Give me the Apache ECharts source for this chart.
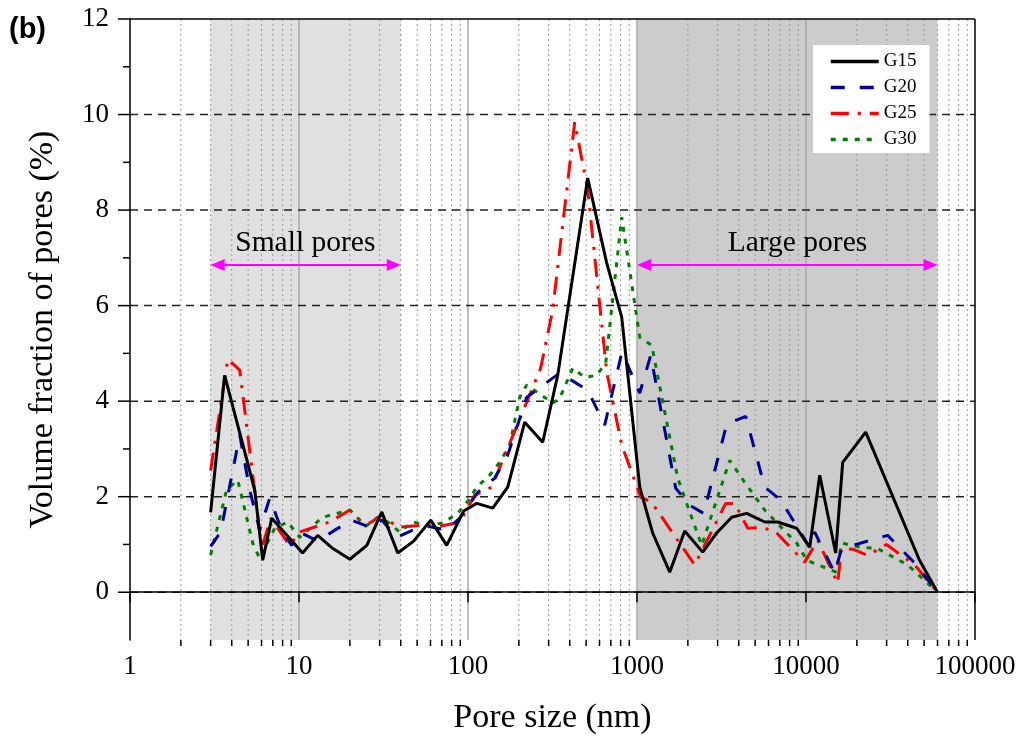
<!DOCTYPE html>
<html><head><meta charset="utf-8">
<script src="https://cdn.jsdelivr.net/npm/echarts@6/dist/echarts.min.js"></script>
<style>html,body{margin:0;padding:0;background:#fff}#chart{width:1023px;height:744px}</style>
</head><body><div id="chart"></div>
<script>
// ---- data (pore size nm, volume fraction %) ----
const seriesNames = ['G15', 'G20', 'G25', 'G30'];
const g15 = [[3,1.67],[3.63,4.54],[5.47,2.14],[6.10,0.67],[6.90,1.55],[10.5,0.82],[12.9,1.19],[15.8,0.92],[20,0.69],[25.2,0.98],[30.9,1.68],[38.4,0.82],[47.7,1.07],[60.2,1.51],[74.8,0.98],[94.3,1.70],[112.6,1.86],[140,1.76],[171.8,2.20],[216.6,3.56],[276.7,3.14],[339.5,4.54],[510.9,8.67],[662,6.89],[812,5.76],[1038,2.20],[1238,1.24],[1562,0.42],[1915,1.28],[2447,0.84],[2962,1.24],[3634,1.57],[4458,1.65],[5696,1.47],[6800,1.47],[8811,1.34],[10517,0.94],[12055,2.45],[14985,0.82],[16490,2.72],[22560,3.35],[46950,0.67],[60000,0]];
const g20 = [[3,0.96],[3.44,1.26],[4.46,3.29],[5.11,2.14],[5.85,1.30],[6.71,1.97],[7.90,1.30],[9.05,0.98],[10.1,1.26],[12.9,1.07],[16.3,1.30],[20.5,1.51],[26.2,1.36],[30.9,1.51],[37.9,1.15],[47.1,1.30],[57.7,1.38],[74.8,1.30],[89.3,1.55],[114.1,2.09],[143.9,2.39],[171.8,2.87],[222.5,4.08],[348.8,4.59],[510.9,4.23],[644,3.50],[815,5.03],[1038,4.17],[1205,4.96],[1694,2.18],[2051,1.82],[2482,1.65],[3395,3.52],[4398,3.68],[5696,2.20],[7085,1.93],[10517,0.94],[11260,1.26],[14785,0.40],[16200,0.90],[18890,0.98],[30440,1.19],[43980,0.61],[60000,0]];
const g25 = [[3,2.55],[3.79,4.88],[4.46,4.65],[6.02,0.92],[6.80,1.55],[8.81,0.98],[10.1,1.26],[15.2,1.47],[20,1.72],[21.9,1.55],[26.2,1.45],[30.9,1.61],[38.4,1.36],[51.8,1.40],[68.0,1.38],[89.3,1.47],[109.5,2.03],[138.1,2.20],[269,4.69],[317,5.91],[428,9.84],[510.9,8.42],[662,4.61],[812,3.08],[1052,1.99],[1222,1.88],[2195,0.57],[3349,1.86],[3786,1.86],[4519,1.34],[5543,1.36],[6708,1.24],[9810,0.63],[11730,1.09],[15400,0.19],[16200,0.92],[18890,0.90],[23180,0.77],[29900,1.00],[43980,0.57],[60000,0]];
const g30 = [[3,0.78],[3.73,2.14],[4.34,2.35],[5.32,1.03],[5.85,0.71],[7.18,1.34],[8.57,1.47],[10.1,1.15],[13.8,1.57],[20,1.72],[24.8,1.38],[29.2,1.57],[33.5,1.47],[39.4,1.26],[47.1,1.47],[57.7,1.40],[70.8,1.45],[86.9,1.65],[101,1.93],[112.6,2.20],[134.4,2.45],[154,2.72],[176.5,3.08],[202.2,4.08],[222.5,4.34],[317.1,3.96],[348.8,4.06],[416.5,4.69],[490,4.50],[577,4.54],[653,4.80],[812,7.85],[1038,5.34],[1222,5.17],[1741,2.39],[2414,0.98],[3536,2.76],[4339,2.30],[5696,1.72],[7688,1.24],[8811,1.03],[10096,0.67],[13260,0.50],[15130,0.42],[16263,1.03],[21150,0.94],[26340,0.92],[39980,0.57],[60000,0]];
const xTickLabels = [1, 10, 100, 1000, 10000, 100000];
const yTickLabels = [0, 2, 4, 6, 8, 10, 12];
const smallPores = [3, 40];
const largePores = [1000, 60000];
const poreLabels = ['Small pores', 'Large pores'];
const poreLabelX = [10.9, 8900];
const arrowLevel = 6.85;
const labelLevel = 7.3;

const X_MIN = xTickLabels[0], X_MAX = xTickLabels[xTickLabels.length - 1];
const Y_MIN = -1, Y_MAX = yTickLabels[yTickLabels.length - 1];
const SERIF = '"Liberation Serif","Times New Roman",serif';

function renderDecor(params, api) {
  const c = [];
  const P = (x, y) => api.coord([x, y]);
  const seg = (a, b, style) => c.push({type: 'line', shape: {x1: a[0], y1: a[1], x2: b[0], y2: b[1]}, style: style});
  const band = (r, fill) => {
    const a = P(r[0], Y_MAX), b = P(r[1], Y_MIN);
    c.push({type: 'rect', shape: {x: a[0], y: a[1], width: b[0] - a[0], height: b[1] - a[1]}, style: {fill: fill}});
  };
  band(smallPores, '#e0e0e0');
  band(largePores, '#cccccc');
  for (let d = 1; d < X_MAX; d *= 10) {
    for (let k = 2; k <= 9; k++) {
      const v = d * k;
      const a = P(v, Y_MAX), b = P(v, Y_MIN);
      seg(a, b, {stroke: '#9a9a9a', lineWidth: 1, lineDash: [2, 3]});
      seg(b, [b[0], b[1] + 6], {stroke: '#000', lineWidth: 1.5});
    }
  }
  xTickLabels.slice(1, -1).forEach(v => seg(P(v, Y_MAX), P(v, Y_MIN), {stroke: '#a8a8a8', lineWidth: 1.5}));
  yTickLabels.forEach(v => { if (v < Y_MAX) seg(P(X_MIN, v), P(X_MAX, v), {stroke: '#222', lineWidth: 1.5, lineDash: [8, 6]}); });
  for (let v = 0; v <= Y_MAX; v++) {
    const a = P(X_MIN, v);
    const len = yTickLabels.indexOf(v) >= 0 ? 12 : 7;
    seg([a[0] - len, a[1]], a, {stroke: '#000', lineWidth: 1.5});
  }
  seg(P(X_MIN, Y_MAX), P(X_MAX, Y_MAX), {stroke: '#000', lineWidth: 1.5});
  seg(P(X_MAX, Y_MAX), P(X_MAX, Y_MIN), {stroke: '#000', lineWidth: 1.5});
  [smallPores, largePores].forEach((r, i) => {
    const a = P(r[0], arrowLevel), b = P(r[1], arrowLevel);
    const h = 14, w = 6;
    seg([a[0] + h - 2, a[1]], [b[0] - h + 2, b[1]], {stroke: '#ff00ff', lineWidth: 2});
    c.push({type: 'polygon', shape: {points: [[a[0], a[1]], [a[0] + h, a[1] - w], [a[0] + h, a[1] + w]]}, style: {fill: '#ff00ff'}});
    c.push({type: 'polygon', shape: {points: [[b[0], b[1]], [b[0] - h, b[1] - w], [b[0] - h, b[1] + w]]}, style: {fill: '#ff00ff'}});
    const t = P(poreLabelX[i], labelLevel);
    c.push({type: 'text', x: t[0], y: t[1], style: {text: poreLabels[i], fill: '#000', fontSize: 29.5, fontFamily: SERIF, align: 'center', verticalAlign: 'middle'}});
  });
  return {type: 'group', children: c};
}

const styles = {
  G15: {color: '#000000', type: 'solid', z: 6},
  G20: {color: '#000099', type: [14, 15], z: 5},
  G25: {color: '#ff0000', type: [18, 9, 3, 9], z: 4},
  G30: {color: '#008000', type: [5, 7], z: 3}
};
const dataByName = {G15: g15, G20: g20, G25: g25, G30: g30};

const chart = echarts.init(document.getElementById('chart'), null, {renderer: 'canvas'});
chart.setOption({
  animation: false,
  backgroundColor: '#fff',
  textStyle: {fontFamily: SERIF},
  grid: {left: 130, right: 48, top: 19, bottom: 104, containLabel: false},
  graphic: [{type: 'text', left: 9, top: 15, style: {text: '(b)', font: 'bold 29px "Liberation Sans", Arial, sans-serif', fill: '#000'}}],
  legend: {
    data: seriesNames, orient: 'vertical', left: 813, top: 45,
    backgroundColor: '#ffffff', padding: [7, 13, 4, 16],
    itemWidth: 48, itemHeight: 14, itemGap: 7,
    itemStyle: {opacity: 0},
    lineStyle: {width: 3.5},
    textStyle: {fontFamily: SERIF, fontSize: 19, color: '#000'}
  },
  xAxis: {
    type: 'log', logBase: 10, min: X_MIN, max: X_MAX, z: 10,
    name: 'Pore size (nm)', nameLocation: 'middle', nameGap: 61,
    nameTextStyle: {fontFamily: SERIF, fontSize: 34, color: '#000'},
    axisLine: {show: true, lineStyle: {color: '#000', width: 1.5}},
    axisTick: {show: true, length: 10, lineStyle: {color: '#000', width: 1.5}},
    axisLabel: {fontFamily: SERIF, fontSize: 27, color: '#000', margin: 13, formatter: v => String(Math.round(v))},
    splitLine: {show: false}, minorTick: {show: false}
  },
  yAxis: {
    type: 'value', min: Y_MIN, max: Y_MAX, interval: 1, z: 10,
    name: 'Volume fraction of pores (%)', nameLocation: 'middle', nameGap: 70,
    nameTextStyle: {fontFamily: SERIF, fontSize: 34, color: '#000'},
    axisLine: {show: true, lineStyle: {color: '#000', width: 1.5}},
    axisTick: {show: false},
    axisLabel: {fontFamily: SERIF, fontSize: 27, color: '#000', margin: 21,
      formatter: v => (yTickLabels.indexOf(v) >= 0 ? String(v) : '')},
    splitLine: {show: false}
  },
  series: [
    {type: 'custom', name: 'decor', silent: true, z: 1, data: [[X_MIN, 0]], renderItem: renderDecor}
  ].concat(seriesNames.map(n => ({
    name: n, type: 'line', data: dataByName[n], symbol: 'none', showSymbol: false, z: styles[n].z,
    itemStyle: {color: styles[n].color},
    lineStyle: {color: styles[n].color, width: 3, type: styles[n].type}
  })))
});
</script></body></html>
